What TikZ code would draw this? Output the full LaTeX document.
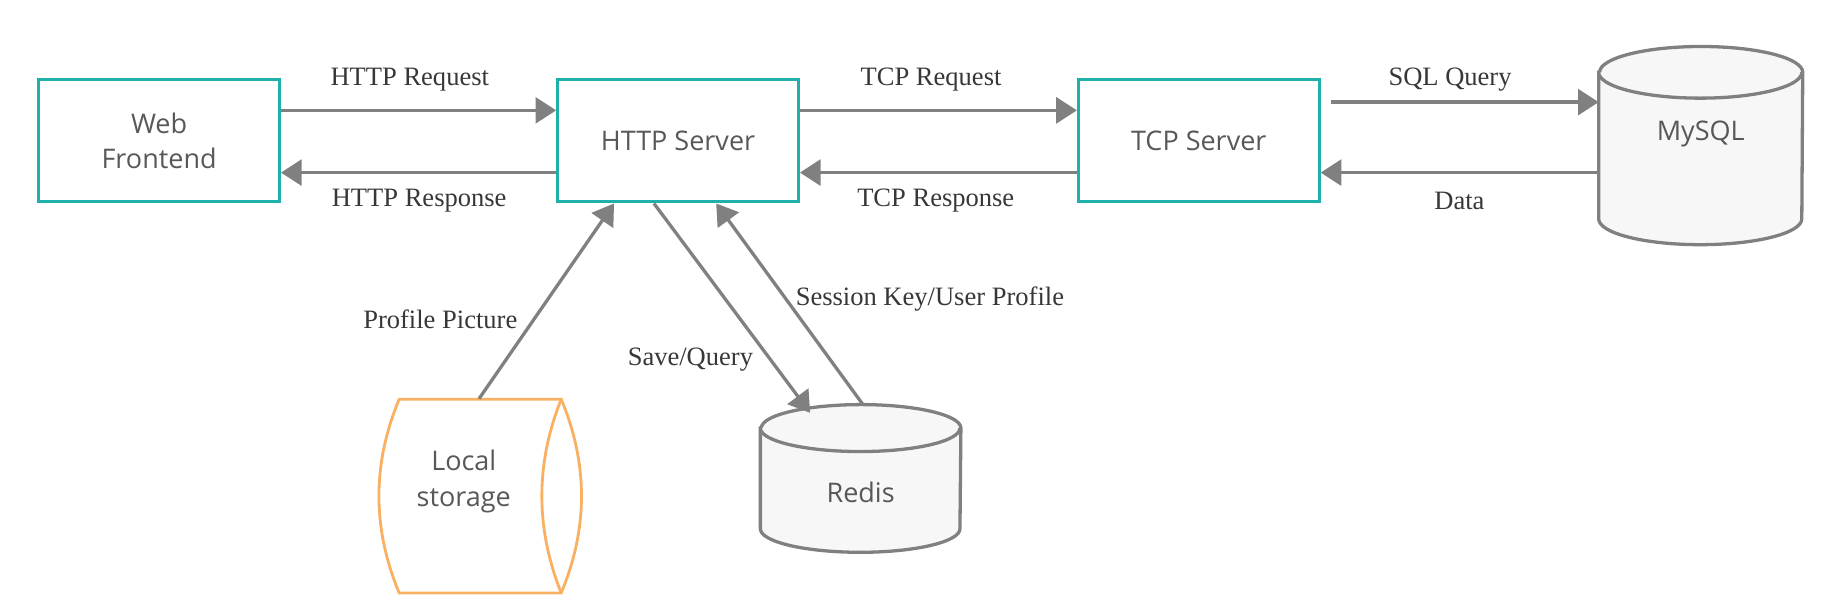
\documentclass[tikz,border=0pt]{standalone}
\usepackage{fontspec}
\setmainfont{Liberation Serif}
\newfontfamily\boxfont{Open Sans}
\usetikzlibrary{arrows.meta}

\definecolor{boxteal}{RGB}{32,176,170}
\definecolor{flowgray}{RGB}{128,128,128}
\definecolor{storeorange}{RGB}{249,176,98}
\definecolor{dbfill}{RGB}{247,247,247}
\definecolor{boxtext}{RGB}{88,88,88}
\definecolor{lbltext}{RGB}{55,55,55}

\begin{document}
\begin{tikzpicture}[x=0.5pt,y=-0.5pt,
  box/.style={draw=boxteal,line width=1.3pt,minimum width=102.5pt,minimum height=52pt,
    align=center,text=boxtext,font=\boxfont\fontsize{11.5}{15}\selectfont},
  dbtext/.style={inner sep=0pt,align=center,text=boxtext,font=\boxfont\fontsize{11.5}{15}\selectfont},
  db/.style={draw=flowgray,line width=1.4pt,fill=dbfill},
  flow/.style={draw=flowgray,line width=1.4pt,-{Triangle[length=8.8pt,width=11pt]}},
  lbl/.style={text=lbltext,font=\fontsize{11.3}{13}\selectfont,inner sep=1pt}]

\useasboundingbox (0,0) rectangle (1568,512);

% servers
\node [box] (web) at (135.5,120) {Web\\Frontend};
\node [box] (http) at (577.5,120) {HTTP Server};
\node [box] (tcp) at (1021,120) {TCP Server};

% databases
\node [dbtext,minimum width=86.5pt,minimum height=84pt] (mysql) at (1448.5,124) {};
\draw [db] ([yshift=-11pt]mysql.north west) -- ([yshift=11pt]mysql.south west)
  arc [start angle=180,end angle=360,x radius=43.25pt,y radius=11pt]
  -- ([yshift=-11pt]mysql.north east)
  arc [start angle=0,end angle=180,x radius=43.25pt,y radius=11pt] -- cycle;
\draw [db] ([yshift=-11pt]mysql.north west)
  arc [start angle=180,end angle=360,x radius=43.25pt,y radius=11pt];
\node [dbtext] (mysqlText) at ([yshift=5pt]mysql) {MySQL};

\node [dbtext,minimum width=85pt,minimum height=62.5pt] (redis) at (733,407.5) {};
\draw [db] ([yshift=-10pt]redis.north west) -- ([yshift=10pt]redis.south west)
  arc [start angle=180,end angle=360,x radius=42.5pt,y radius=10pt]
  -- ([yshift=-10pt]redis.north east)
  arc [start angle=0,end angle=180,x radius=42.5pt,y radius=10pt] -- cycle;
\draw [db] ([yshift=-10pt]redis.north west)
  arc [start angle=180,end angle=360,x radius=42.5pt,y radius=10pt];
\node [dbtext] (redisText) at ([yshift=-6pt]redis) {Redis};

% local storage
\draw [storeorange,line width=1.2pt] (340,340) -- (478,340)
  .. controls (501,395) and (501,450) .. (478,505) -- (340,505)
  .. controls (317,450) and (317,395) .. cycle;
\draw [storeorange,line width=1.2pt] (478,340) .. controls (456,395) and (456,450) .. (478,505);
\node [dbtext,minimum height=70pt] (local) at (395,410) {Local\\storage};

% connectors
\draw [flow] ([yshift=13pt]web.east) -- ([yshift=13pt]http.west);
\draw [flow] ([yshift=-13.5pt]http.west) -- ([yshift=-13.5pt]web.east);
\draw [flow] ([yshift=13pt]http.east) -- ([yshift=13pt]tcp.west);
\draw [flow] ([yshift=-13.5pt]tcp.west) -- ([yshift=-13.5pt]http.east);
\draw [flow] ([xshift=4.5pt,yshift=16.5pt]tcp.east) -- ([yshift=18.5pt]mysql.west);
\draw [flow] ([yshift=-11.5pt]mysql.west) -- ([yshift=-13.5pt]tcp.east);
\draw [flow] ([xshift=6.5pt]local.north) -- ([xshift=-27.25pt]http.south);
\draw [flow] ([xshift=-10.25pt]http.south) -- ([xshift=-21.5pt,yshift=-3.5pt]redis.north);
\draw [flow] ([xshift=1pt]redis.north) -- ([xshift=16.25pt]http.south);

% labels
\node [lbl] (lHttpReq) at (349,68) {HTTP Request};
\node [lbl] (lHttpRes) at (357,171) {HTTP Response};
\node [lbl] (lTcpReq) at (793,68) {TCP Request};
\node [lbl] (lTcpRes) at (797,171) {TCP Response};
\node [lbl] (lSql) at (1235,68) {SQL Query};
\node [lbl] (lData) at (1243,171) {Data};
\node [lbl] (lPic) at (375,272) {Profile Picture};
\node [lbl] (lSave) at (588,306) {Save/Query};
\node [lbl] (lSess) at (792,255) {Session Key/User Profile};

\end{tikzpicture}
\end{document}
